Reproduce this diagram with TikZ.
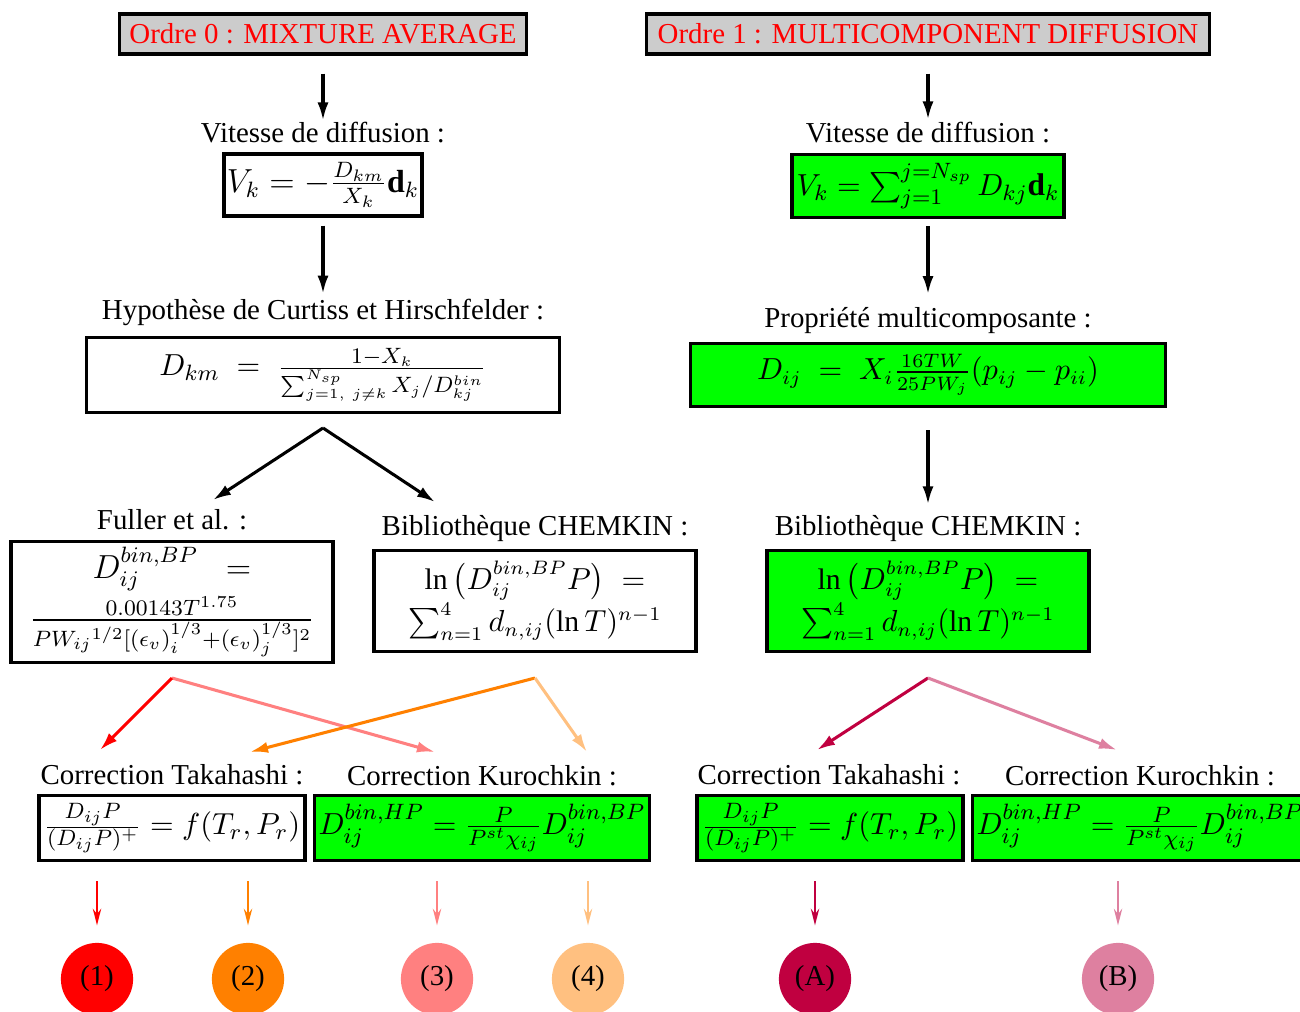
\documentclass[tikz,border=0pt]{standalone}
\usepackage{amsmath}
\usepackage{fontspec}
\setmainfont{Liberation Serif}
\usetikzlibrary{arrows.meta}

\definecolor{cone}{RGB}{255,0,0}
\definecolor{ctwo}{RGB}{255,128,0}
\definecolor{cthree}{RGB}{255,128,128}
\definecolor{cfour}{RGB}{255,192,128}
\definecolor{cA}{RGB}{192,0,64}
\definecolor{cB}{RGB}{222,128,160}
\definecolor{boxgreen}{RGB}{0,255,0}

\begin{document}
\begin{tikzpicture}[x=0.36pt, y=-0.36pt,
  txt/.style={font=\fontsize{10.4}{12.5}\selectfont},
  title/.style={draw, line width=1.2pt, fill=black!20, text=red, inner sep=0pt,
    minimum height=14.4pt, txt},
  lab/.style={inner sep=0pt, anchor=base, txt},
  box/.style={draw, line width=1.2pt, inner sep=0pt, align=center},
  gbox/.style={box, fill=boxgreen},
  big/.style={-{Latex[length=6.5pt,width=4pt]}, line width=1.1pt},
  small/.style={-{Stealth[length=6pt,width=3pt]}, line width=0.8pt,
    shorten >=6.1pt},
  dot/.style={circle, inner sep=0pt, minimum size=26pt, txt}]
\useasboundingbox (0,0) rectangle (1300,1011); % page size

% left: mixture average
\node[title, minimum width=146.5pt] (t0) at (323,34) {Ordre 0 : MIXTURE AVERAGE};
\node[lab] (v0lab) at (323,143) {Vitesse de diffusion :};
\node[box, minimum width=71.3pt, minimum height=22.3pt,
  font=\fontsize{11.5}{14}\selectfont] (v0) at (323,185)
  {$V_k = -\frac{D_{km}}{X_k}\mathbf{d}_k$};
\node[lab] (h0lab) at (323,319) {Hypothèse de Curtiss et Hirschfelder :};
\node[box, minimum width=170.3pt, minimum height=27pt,
  font=\fontsize{10.8}{13}\selectfont] (d0) at (323,375)
  {$D_{km} \;=\; \frac{1-X_k}{\sum_{j=1,\ j\neq k}^{N_{sp}} X_j/D^{bin}_{kj}}$};
\node[lab] (f0lab) at (172,529) {Fuller et al. :};
\node[box, minimum width=115.9pt, minimum height=43.6pt,
  font=\fontsize{11.5}{14}\selectfont] (fu0) at (172,602)
  {$D^{bin,BP}_{ij} \;\;=$\\[1pt]
   $\frac{0.00143T^{1.75}}{PW_{ij}{}^{1/2}[(\epsilon_v)_i^{1/3}+(\epsilon_v)_j^{1/3}]^2}$};
\node[lab] (c0lab) at (535,535) {Bibliothèque CHEMKIN :};
\node[box, minimum width=115.9pt, minimum height=36.4pt,
  font=\fontsize{10.7}{14}\selectfont] (ch0) at (535,601)
  {$\ln\,\bigl(D^{bin,BP}_{ij}P\bigr) \;=$\\
   $\sum_{n=1}^{4} d_{n,ij}(\ln T)^{n-1}$};
\node[lab] (tk0lab) at (172,784) {Correction Takahashi :};
\node[box, minimum width=95.8pt, minimum height=23.4pt,
  font=\fontsize{11.3}{14}\selectfont] (tk0) at (172,828)
  {$\frac{D_{ij}P}{(D_{ij}P)^{+}} = f(T_r,P_r)$};
\node[lab] (ku0lab) at (482,785) {Correction Kurochkin :};
\node[gbox, minimum width=120.6pt, minimum height=23.4pt,
  font=\fontsize{11.3}{14}\selectfont] (ku0) at (482,828)
  {$D^{bin,HP}_{ij} = \frac{P}{P^{st}\chi_{ij}}D^{bin,BP}_{ij}$};

% right: multicomponent diffusion
\node[title, minimum width=202.7pt] (t1) at (928,34) {Ordre 1 : MULTICOMPONENT DIFFUSION};
\node[lab] (v1lab) at (928,142) {Vitesse de diffusion :};
\node[gbox, minimum width=97.9pt, minimum height=22.7pt,
  font=\fontsize{11.3}{14}\selectfont] (v1) at (928,186)
  {$V_k = \sum_{j=1}^{j=N_{sp}} D_{kj}\mathbf{d}_k$};
\node[lab] (p1lab) at (928,327) {Propriété multicomposante :};
\node[gbox, minimum width=171pt, minimum height=22.7pt,
  font=\fontsize{10.7}{13}\selectfont] (d1) at (928,375)
  {$D_{ij} \;=\; X_i\frac{16TW}{25PW_j}(p_{ij}-p_{ii})$};
\node[lab] (c1lab) at (928,535) {Bibliothèque CHEMKIN :};
\node[gbox, minimum width=115.9pt, minimum height=36.4pt,
  font=\fontsize{10.7}{14}\selectfont] (ch1) at (928,601)
  {$\ln\,\bigl(D^{bin,BP}_{ij}P\bigr) \;=$\\
   $\sum_{n=1}^{4} d_{n,ij}(\ln T)^{n-1}$};
\node[lab] (tk1lab) at (829,784) {Correction Takahashi :};
\node[gbox, minimum width=95.8pt, minimum height=23.4pt,
  font=\fontsize{11.3}{14}\selectfont] (tk1) at (830,828)
  {$\frac{D_{ij}P}{(D_{ij}P)^{+}} = f(T_r,P_r)$};
\node[lab] (ku1lab) at (1140,785) {Correction Kurochkin :};
\node[gbox, minimum width=120.6pt, minimum height=23.4pt,
  font=\fontsize{11.3}{14}\selectfont] (ku1) at (1140,828)
  {$D^{bin,HP}_{ij} = \frac{P}{P^{st}\chi_{ij}}D^{bin,BP}_{ij}$};

% black arrows
\draw[big, shorten <=6.5pt, shorten >=0.6pt] (t0) -- (v0lab);
\draw[big, shorten <=2.9pt, shorten >=1.6pt] (v0) -- (h0lab);
\draw[big, shorten <=6.5pt, shorten >=0.6pt] (t1) -- (v1lab);
\draw[big, shorten <=2.5pt, shorten >=4.4pt] (v1) -- (p1lab);
\draw[big, shorten <=7.9pt, shorten >=3.6pt] (d1) -- (c1lab);
\coordinate (k0) at (323,428);
\coordinate (kf) at (213,500);
\coordinate (kc) at (435,502);
\draw[big] (k0) -- (kf);
\draw[big] (k0) -- (kc);

% coloured forks
\coordinate (p0) at (172,678);
\coordinate (p1) at (535,678);
\coordinate (p2) at (928,678);
\coordinate (e1) at (100,750);
\coordinate (e2) at (250,752);
\coordinate (e3) at (435,752);
\coordinate (e4) at (587,752);
\coordinate (eA) at (817,750);
\coordinate (eB) at (1117,750);
\draw[big, cthree] (p0) -- (e3);
\draw[big, ctwo] (p1) -- (e2);
\draw[big, cone] (p0) -- (e1);
\draw[big, cfour] (p1) -- (e4);
\draw[big, cA] (p2) -- (eA);
\draw[big, cB] (p2) -- (eB);

% end points
\node[dot, fill=cone] (o1) at (97,979) {(1)};
\node[dot, fill=ctwo] (o2) at (248,979) {(2)};
\node[dot, fill=cthree] (o3) at (437,979) {(3)};
\node[dot, fill=cfour] (o4) at (588,979) {(4)};
\node[dot, fill=cA] (oA) at (815,979) {(A)};
\node[dot, fill=cB] (oB) at (1118,979) {(B)};
\coordinate (s1) at (97,881);
\coordinate (s2) at (248,881);
\coordinate (s3) at (437,881);
\coordinate (s4) at (588,881);
\coordinate (sA) at (815,881);
\coordinate (sB) at (1118,881);
\draw[small, cone] (s1) -- (o1);
\draw[small, ctwo] (s2) -- (o2);
\draw[small, cthree] (s3) -- (o3);
\draw[small, cfour] (s4) -- (o4);
\draw[small, cA] (sA) -- (oA);
\draw[small, cB] (sB) -- (oB);
\end{tikzpicture}
\end{document}
